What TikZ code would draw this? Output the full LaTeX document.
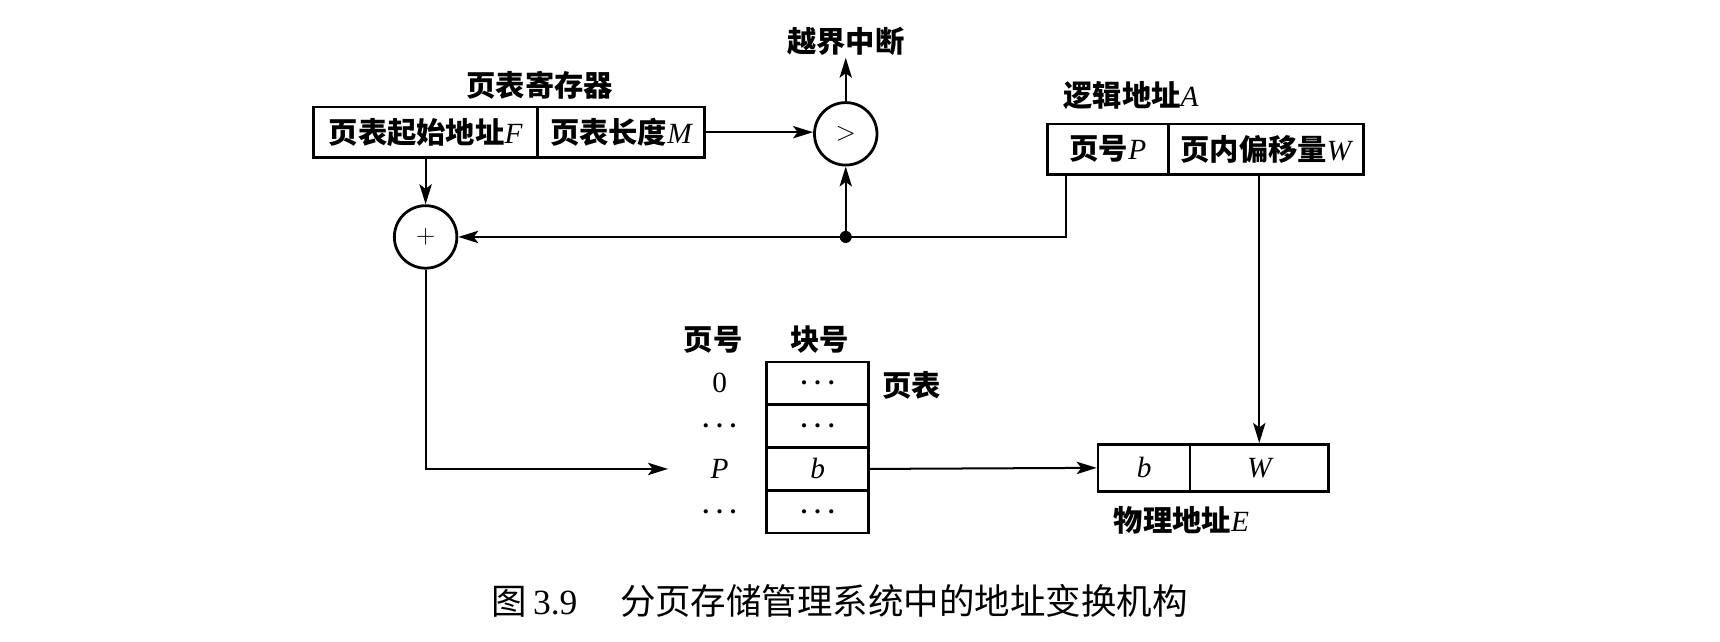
\documentclass[tikz,border=0pt]{standalone}
\usepackage{fontspec}
\setmainfont{Liberation Serif}
\newfontfamily\cjk{Noto Sans CJK SC}
\usetikzlibrary{arrows.meta}
\newcommand\lblfont{\fontsize{19}{21}\selectfont}
\newcommand\ivar[1]{{\rmfamily\mdseries\itshape #1}}
\newcommand\dotsb{{\boldmath$\cdots$}}
\begin{document}
\begin{tikzpicture}[x=0.025cm,y=-0.025cm,
  cell/.style={draw,line width=1.7pt,inner sep=0pt,font=\lblfont\cjk\bfseries},
  op/.style={circle,draw,line width=1.8pt,inner sep=0pt,minimum size=57*0.025cm,font=\fontsize{19}{21}\selectfont},
  lbl/.style={inner sep=1pt,font=\lblfont\cjk\bfseries},
  line/.style={line width=1.3pt},
  conn/.style={line width=1.3pt,-{Stealth[length=13pt,width=8pt,inset=3pt]}}]
\useasboundingbox (0,0) rectangle (1568,585);

% page table register
\node[lbl] (regt) at (492,77.5) {页表寄存器};
\node[cell,minimum width=204*0.025cm,minimum height=46*0.025cm] (F) at (388,120.5) {页表起始地址\ivar{F}};
\node[cell,minimum width=152*0.025cm,minimum height=46*0.025cm] (M) at (566,120.5) {页表长度\ivar{M}};

% comparator and adder
\node[op] (gt) at (771,122) {$>$};
\node[op] (plus) at (388,216) {$+$};
\node[lbl] (ovf) at (771,38) {越界中断};

% logical address
\node[lbl] (lat) at (1031,87) {逻辑地址\ivar{A}};
\node[cell,minimum width=110*0.025cm,minimum height=46*0.025cm] (LP) at (1010,136) {页号\ivar{P}};
\node[cell,minimum width=178*0.025cm,minimum height=46*0.025cm] (LW) at (1154,136) {页内偏移量\ivar{W}};

% page table
\node[lbl] (hp) at (650,310) {页号};
\node[lbl] (hb) at (747.5,310) {块号};
\node[cell,minimum width=93*0.025cm,minimum height=39*0.025cm] (r1) at (745.5,349.5) {\dotsb};
\node[cell,minimum width=93*0.025cm,minimum height=39*0.025cm] (r2) at (745.5,388.5) {\dotsb};
\node[cell,minimum width=93*0.025cm,minimum height=39*0.025cm] (r3) at (745.5,427.5) {\ivar{b}};
\node[cell,minimum width=93*0.025cm,minimum height=39*0.025cm] (r4) at (745.5,466.5) {\dotsb};
\node[lbl] (pt) at (831,351) {页表};
\node[lbl] (l1) at (656,349.5) {\rmfamily\mdseries 0};
\node[lbl] (l2) at (656,388.5) {\dotsb};
\node[lbl] (l3) at (656,427.5) {\ivar{P}};
\node[lbl] (l4) at (656,466.5) {\dotsb};

% physical address
\node[cell,minimum width=84*0.025cm,minimum height=43*0.025cm] (Pb) at (1043,426.5) {\ivar{b}};
\node[cell,minimum width=126*0.025cm,minimum height=43*0.025cm] (PW) at (1148,426.5) {\ivar{W}};
\node[lbl] (pat) at (1077,474) {物理地址\ivar{E}};

% caption
\node[inner sep=0pt,font=\fontsize{23}{25}\selectfont] (cap) at (765.5,548) {{\cjk 图}\,3.9\hspace{1.2em}{\cjk 分页存储管理系统中的地址变换机构}};

% connectors
\coordinate (pdrop) at (972,216);
\coordinate (j) at (771,216);
\coordinate (tin) at (609,427.5);
\draw[conn] (M.east) -- (M.east -| gt.west);
\draw[conn] (gt.north) -- (ovf.south);
\draw[conn] (F.south) -- (plus.north);
\draw[line] (LP.south -| pdrop) -- (pdrop) -- (j);
\draw[conn] (j) -- (plus.east);
\draw[conn] (j) -- (gt.south);
\fill (j) circle[radius=5.5];
\draw[conn] (plus.south) |- (tin);
\draw[conn] (r3.east) -- (Pb.west);
\draw[conn] (LW.south -| PW.north) -- (PW.north);
\end{tikzpicture}
\end{document}
